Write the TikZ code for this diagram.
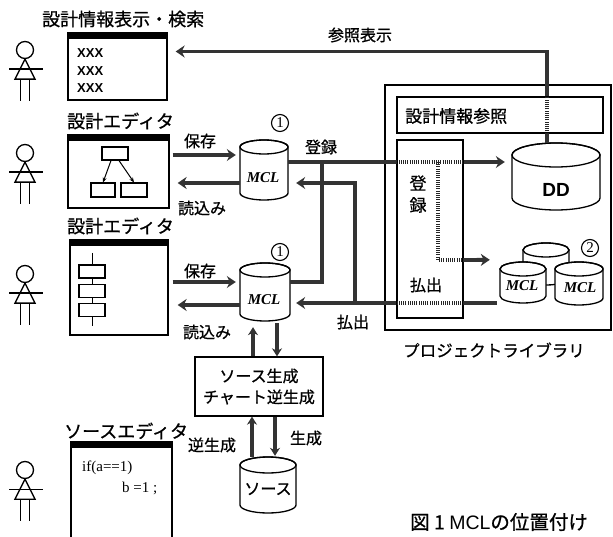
\documentclass[tikz,border=0pt]{standalone}
\usepackage{fontspec}
\setmainfont{Noto Sans CJK JP}[FakeBold=0.8]
\newfontfamily\lserif{Liberation Serif}
\newfontfamily\lsans{Liberation Sans}
\usetikzlibrary{arrows.meta}
\tikzset{
 fat/.style={line width=3.8pt, draw=black!80},
 fatarrow/.style={fat, -{Stealth[length=9pt,width=12pt,inset=3pt]}},
 vfat/.style={line width=3.2pt, draw=black!80, -{Stealth[length=8pt,width=10pt,inset=2.5pt]}},
 hatch/.style={line width=3.8pt, draw=black!85, dash pattern=on 1pt off 1.2pt},
 lbl/.style={font=\fontsize{16}{16}\selectfont, inner sep=0pt},
 ttl/.style={font=\fontsize{18}{18}\selectfont, inner sep=0pt, anchor=west},
 win/.style={draw, line width=1.3pt, inner sep=0pt},
 box/.style={draw, line width=1.3pt, inner sep=0pt},
 chartbox/.style={draw, fill=white, line width=1.1pt, inner sep=0pt},
 cylline/.style={line width=1.3pt, fill=white},
 mcltxt/.style={font=\lserif\bfseries\itshape\fontsize{15}{15}\selectfont, inner sep=0pt},
 num/.style={draw, circle, line width=1.1pt, inner sep=0pt, minimum size=17pt, font=\lserif\fontsize{15}{15}\selectfont},
 xtxt/.style={font=\lsans\bfseries\fontsize{13}{13}\selectfont, inner sep=0pt, anchor=west},
 codetxt/.style={font=\lserif\fontsize{15}{15}\selectfont, inner sep=0pt, anchor=west},
 stick/.style={line width=1.3pt},
}
% cylinder: cx, top, halfwidth, bottom, ry
\newcommand\drawcyl[5]{%
 \filldraw[cylline] (#1-#3,-#2-#5) -- (#1-#3,-#4+#5)
   arc[start angle=180,end angle=360,x radius=#3pt,y radius=#5pt]
   -- (#1+#3,-#2-#5) arc[start angle=0,end angle=180,x radius=#3pt,y radius=#5pt] -- cycle;
 \draw[line width=1.3pt] (#1,-#2-#5) ellipse[x radius=#3pt,y radius=#5pt];
}
% stick figure: name, head x, head y
\newcommand\stickman[3]{%
 \node[circle, draw, stick, minimum size=17pt, inner sep=0pt] (#1) at (#2,-#3) {};
 \draw[stick] (#1.south) -- ++(-10,-20) -- ++(20,0) -- cycle;
 \draw[stick] ([xshift=-16pt,yshift=-10pt]#1.south) -- ++(34,0);
 \draw[stick] (#1.south) ++(-4.5,-20) -- ++(0,-22);
 \draw[stick] (#1.south) ++(4.5,-20) -- ++(0,-22);
}
\begin{document}
\begin{tikzpicture}[x=1pt,y=1pt]
\useasboundingbox (0,0) rectangle (613,-537);
\clip (0,0) rectangle (613,-537);

% ---------- people ----------
\stickman{p1}{25}{50}
\stickman{p2}{25}{153}
\stickman{p3}{25}{274}
\stickman{p4}{25}{470}

% ---------- titles ----------
\node[ttl] (t1) at (42,-19) {設計情報表示・検索};
\node[ttl] (t2) at (67,-121) {設計エディタ};
\node[ttl] (t3) at (67,-226) {設計エディタ};
\node[ttl] (t4) at (64,-431) {ソースエディタ};

% ---------- windows ----------
\node[win, minimum width=99pt, minimum height=67pt] (win1) at (117.5,-66.5) {};
\fill (win1.north west) rectangle ([yshift=-7pt]win1.north east);
\node[xtxt] (x1) at (77,-53) {XXX};
\node[xtxt] (x2) at (77,-71) {XXX};
\node[xtxt] (x3) at (77,-88) {XXX};

\node[win, minimum width=101pt, minimum height=73pt] (win2) at (118.5,-171.5) {};
\fill (win2.north west) rectangle ([yshift=-7pt]win2.north east);
\node[chartbox, minimum width=26pt, minimum height=13pt] (f1) at (115,-153.5) {};
\node[chartbox, minimum width=24pt, minimum height=14pt] (f2) at (103,-190) {};
\node[chartbox, minimum width=26pt, minimum height=14pt] (f3) at (134,-190) {};
\draw[line width=1pt, -{Stealth[length=5pt,width=4pt]}] ([xshift=-4pt]f1.south) -- (f2.north);
\draw[line width=1pt, -{Stealth[length=5pt,width=4pt]}] ([xshift=4pt]f1.south) -- (f3.north);

\node[win, minimum width=98pt, minimum height=95pt] (win3) at (119,-287.5) {};
\fill (win3.north west) rectangle ([yshift=-7pt]win3.north east);
\coordinate (ctop) at (92,-253);
\coordinate (cbot) at (92,-326);
\node[chartbox, minimum width=26pt, minimum height=13pt] (c1) at (92,-271.5) {};
\node[chartbox, minimum width=26pt, minimum height=13pt] (c2) at (92,-291) {};
\node[chartbox, minimum width=26pt, minimum height=13pt] (c3) at (92,-310) {};
\draw[line width=1pt] (ctop) -- (c1.north) (c1.south) -- (c2.north) (c2.south) -- (c3.north) (c3.south) -- (cbot);

\node[win, minimum width=101pt, minimum height=100pt] (win4) at (121.5,-492) {};
\fill (win4.north west) rectangle ([yshift=-7pt]win4.north east);
\node[codetxt] (code1) at (82,-468) {if(a==1)};
\node[codetxt] (code2) at (122,-488) {b =1 ;};

% ---------- cylinders ----------
\drawcyl{264}{140}{24}{200}{7}
\node[inner sep=0pt, minimum width=48pt, minimum height=60pt] (mcl1) at (264,-170) {};
\node[mcltxt] (mcl1t) at (263,-178) {MCL};
\node[num] (n1a) at (280,-123) {1};

\drawcyl{265}{263}{25}{321}{7}
\node[inner sep=0pt, minimum width=50pt, minimum height=58pt] (mcl2) at (265,-292) {};
\node[mcltxt] (mcl2t) at (264,-300) {MCL};
\node[num] (n1b) at (280,-252) {1};

\drawcyl{268}{457}{28}{513}{8}
\node[inner sep=0pt, minimum width=56pt, minimum height=56pt] (src) at (268,-485) {};
\node[lbl] (srct) at (268,-489) {ソース};

% ---------- generator box ----------
\node[box, minimum width=128pt, minimum height=59pt, align=center,
      font=\fontsize{16}{21}\selectfont] (gen) at (259,-386.5) {ソース生成\\チャート逆生成};

% ---------- project library ----------
\node[box, minimum width=226pt, minimum height=245pt] (lib) at (498,-207.5) {};
\node[box, minimum width=206pt, minimum height=36pt] (info) at (500,-115) {};
\node[lbl, anchor=west, font=\fontsize{17}{17}\selectfont] (infot) at (405,-116) {設計情報参照};
\node[box, minimum width=66pt, minimum height=178pt] (io) at (430,-229) {};
\node[lbl, font=\fontsize{17}{17}\selectfont] (io1) at (418,-183) {登};
\node[lbl, font=\fontsize{17}{17}\selectfont] (io2) at (418,-205) {録};
\node[lbl] (io3) at (426,-285) {払出};

\drawcyl{556}{143}{44}{210}{12}
\node[inner sep=0pt, minimum width=88pt, minimum height=67pt] (dd) at (556,-176.5) {};
\node[font=\lsans\bfseries\fontsize{19}{19}\selectfont, inner sep=0pt] (ddt) at (556,-190) {DD};

\drawcyl{546}{243}{23}{285}{7}
\node[inner sep=0pt, minimum width=46pt, minimum height=42pt] (stT) at (546,-264) {};
\drawcyl{523}{262}{23}{303}{7}
\node[inner sep=0pt, minimum width=46pt, minimum height=41pt] (stL) at (523,-282.5) {};
\drawcyl{579}{262}{24}{305}{7}
\node[inner sep=0pt, minimum width=48pt, minimum height=43pt] (stR) at (579,-283.5) {};
\node[mcltxt] (stLt) at (522,-286) {MCL};
\node[mcltxt] (stRt) at (580,-288) {MCL};
\node[num] (n2) at (590,-248) {2};

\node[font=\fontsize{16.5}{16.5}\selectfont, inner sep=0pt] (libt) at (494,-350) {プロジェクトライブラリ};

% ---------- connectors ----------
% save / load
\draw[fatarrow] ([xshift=3pt,yshift=16.5pt]win2.east) -- ([xshift=-4pt,yshift=15pt]mcl1.west);
\draw[fatarrow] ([yshift=-13pt]mcl1.west) -- ([xshift=8pt,yshift=-11.5pt]win2.east);
\draw[fatarrow] ([xshift=4pt,yshift=5.5pt]win3.east) -- ([xshift=-4pt,yshift=10pt]mcl2.west);
\draw[fatarrow] ([yshift=-13pt]mcl2.west) -- ([xshift=9pt,yshift=-17.5pt]win3.east);
\node[lbl] (ls1) at (200,-141) {保存};
\node[lbl] (ll1) at (202,-208) {読込み};
\node[lbl] (ls2) at (200,-271) {保存};
\node[lbl] (ll2) at (207,-332) {読込み};

% registration
\coordinate (r1) at ([yshift=8pt]mcl1.east);
\coordinate (j1) at (322,-162);
\coordinate (j2) at (438,-162);
\draw[fat] (r1) -- (r1 -| io.west);
\draw[hatch] (r1 -| io.west) -- (r1 -| io.east);
\draw[fatarrow] (r1 -| io.east) -- ([xshift=-7pt]r1 -| dd.west);
\draw[fat] ([yshift=10pt]mcl2.east) -| (j1);
\node[lbl] (lreg) at (321,-147) {登録};
\draw[hatch] (j2) |- ([yshift=-31pt]io.east);
\draw[fatarrow] ([yshift=-31pt]io.east) -- ([xshift=-10pt,yshift=2pt]stL.north west);

% check-out
\coordinate (o1) at ([xshift=-3pt,yshift=-20.5pt]stL.west);
\coordinate (j3) at (355,-303);
\draw[fat] (o1) -- (o1 -| io.east);
\draw[hatch] (o1 -| io.east) -- (o1 -| io.west);
\draw[fatarrow] (o1 -| io.west) -- ([xshift=6pt,yshift=-11pt]mcl2.east);
\draw[fatarrow] (j3) |- ([xshift=8pt,yshift=-13pt]mcl1.east);
\node[lbl] (lout) at (353,-322) {払出};

% reference display
\coordinate (rx) at ([xshift=-9pt]dd.north);
\draw[fat] (rx) -- (rx |- info.south);
\draw[hatch] (rx |- info.south) -- (rx |- info.north);
\draw[fatarrow] (rx |- info.north) |- ([xshift=8pt,yshift=15pt]win1.east);
\node[lbl] (lref) at (360,-35) {参照表示};

% generation
\draw[vfat] ([xshift=-12pt]mcl2.south |- gen.north) -- ([xshift=-12pt,yshift=-6pt]mcl2.south);
\draw[vfat] ([xshift=12pt,yshift=-2pt]mcl2.south) -- ([xshift=12pt]mcl2.south |- gen.north);
\draw[vfat] ([xshift=-16pt]src.north) -- ([xshift=-7pt]gen.south);
\draw[vfat] ([xshift=16pt]gen.south) -- ([xshift=7pt,yshift=1pt]src.north);
\node[lbl] (lrev) at (212,-445) {逆生成};
\node[lbl] (lgen) at (306,-438) {生成};

% caption
\node[font=\fontsize{19.5}{19.5}\selectfont, inner sep=0pt, anchor=west] (cap) at (410,-522) {図 1 {\lsans MCL}の位置付け};
\end{tikzpicture}
\end{document}
